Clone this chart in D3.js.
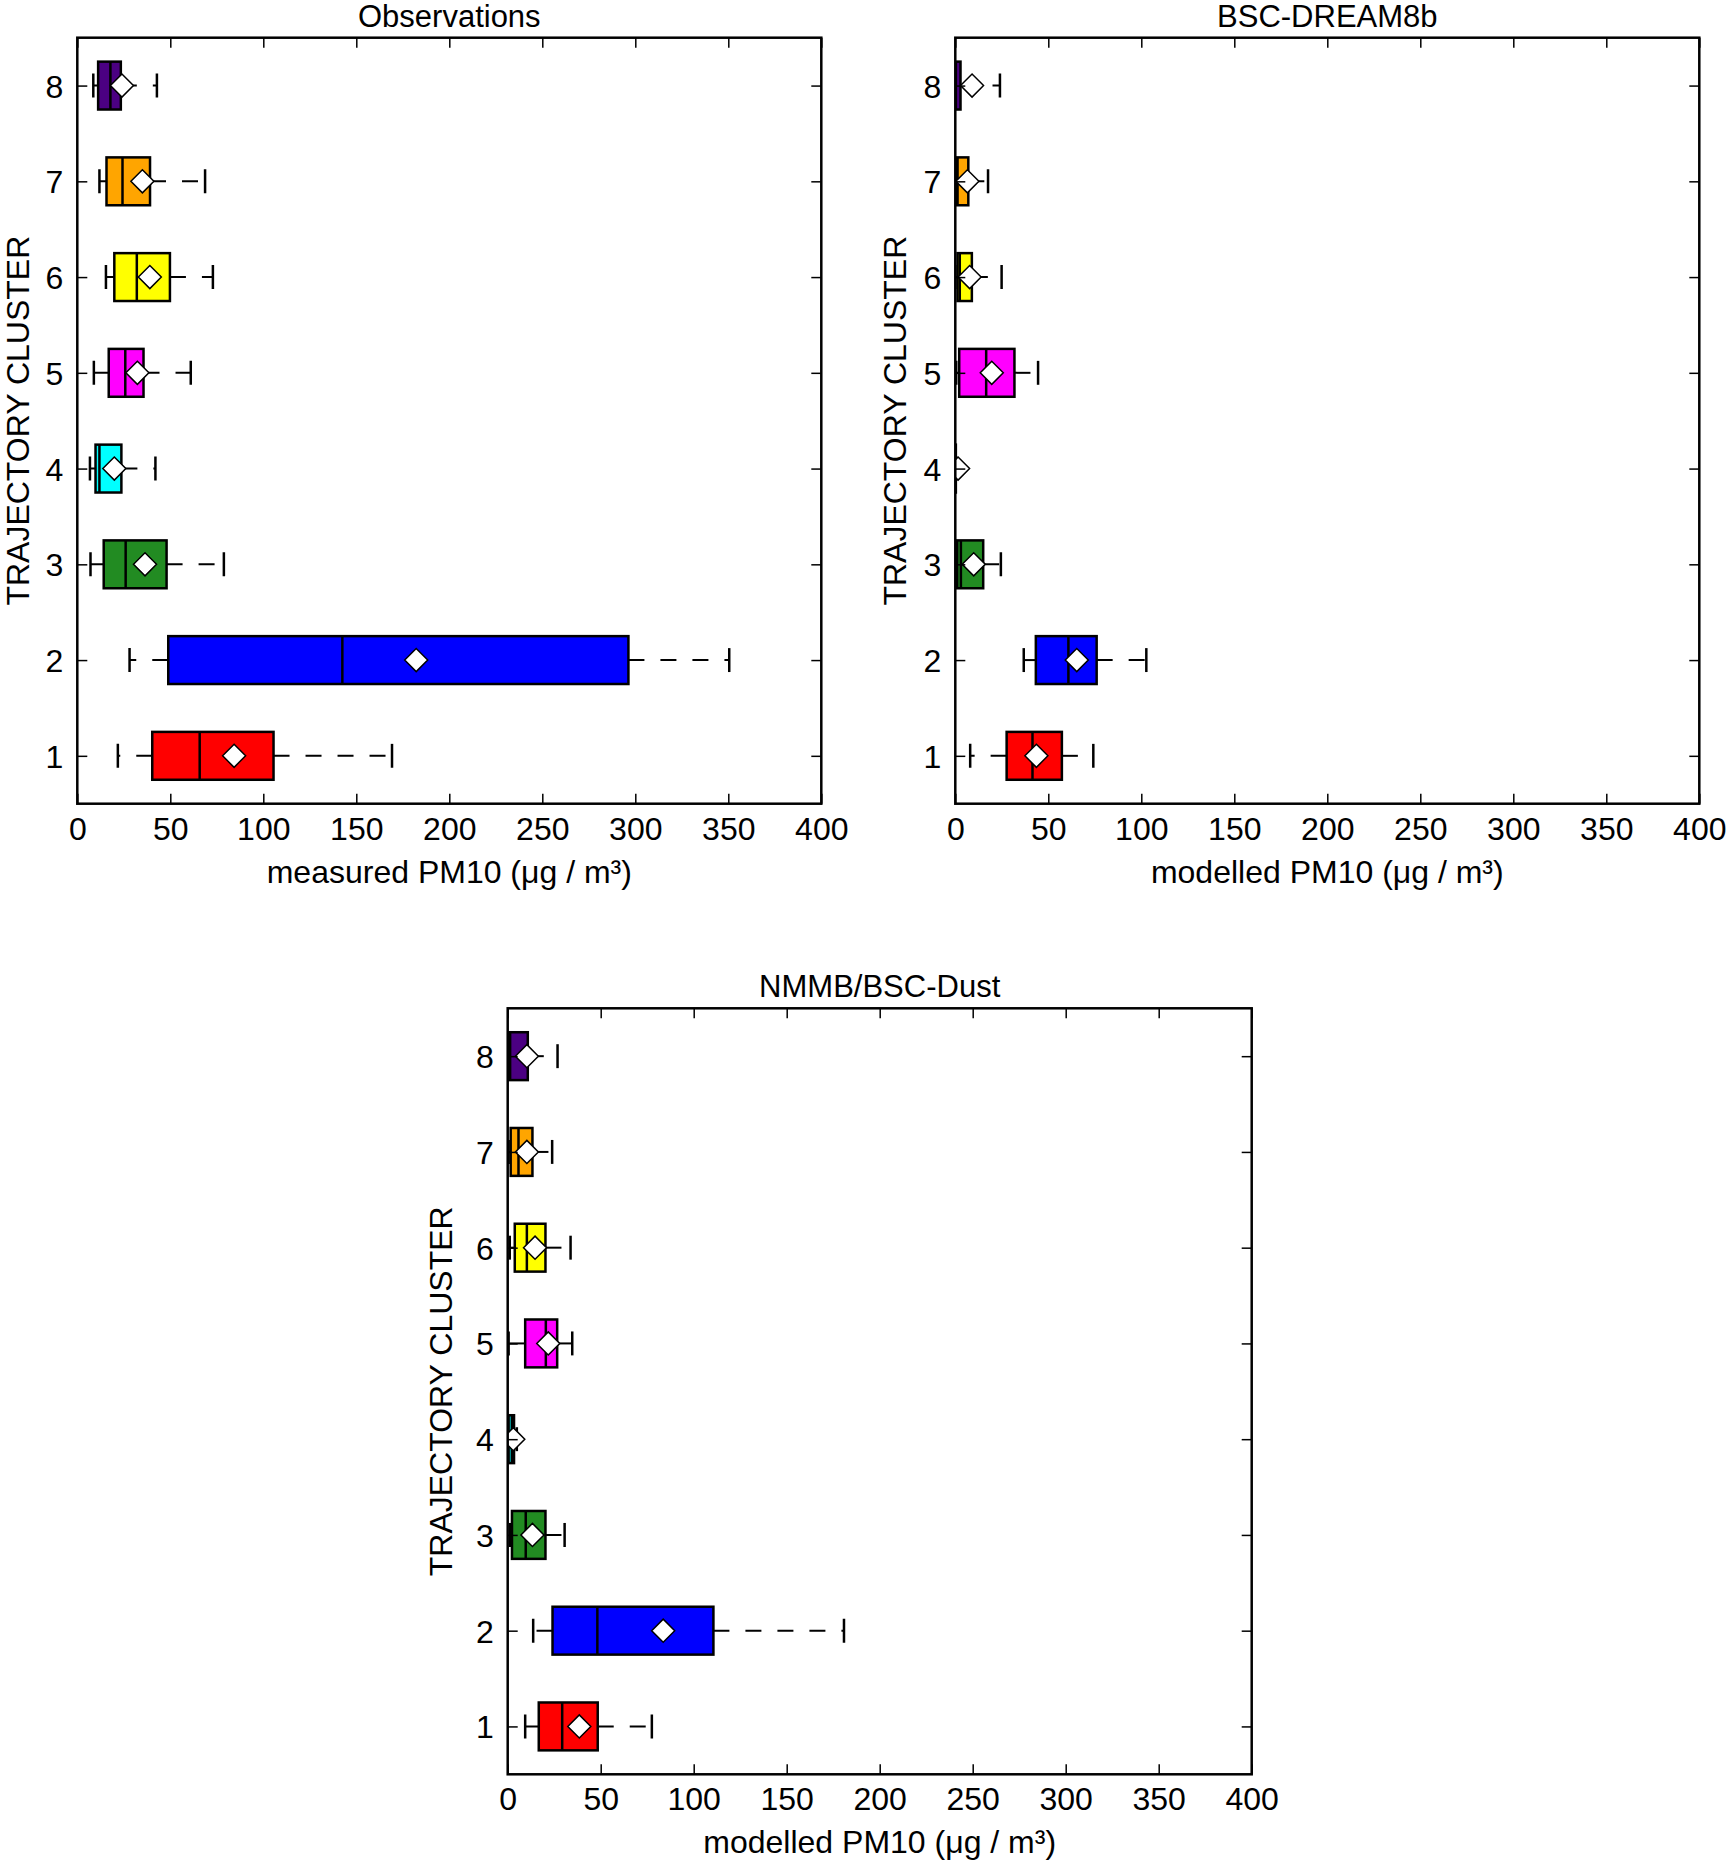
<!DOCTYPE html>
<html>
<head>
<meta charset="utf-8">
<script src="https://cdn.jsdelivr.net/npm/d3@7"></script>
<style>
  body { margin: 0; background: #fff; }
  text { font-family: 'Liberation Sans', Arial, Helvetica, sans-serif; fill: #000; }
</style>
</head>
<body>
<div id="chart"></div>
<script>
// Data: one row per cluster -> [lowCap, q1, median, q3, highCap, mean]
const clusters = [1, 2, 3, 4, 5, 6, 7, 8];
const clusterColors = ['#ff0000', '#0000ff', '#228b22', '#00ffff', '#ff00ff', '#ffff00', '#ffa500', '#4b0082'];
const xTicks = [0, 50, 100, 150, 200, 250, 300, 350, 400];

const obsStats = [
    [21.8, 40.3, 65.8, 105.5, 169.2, 84.3],
    [28.1, 48.9, 142.5, 296.3, 350.5, 182.2],
    [7.1, 14.2, 26.0, 48.0, 78.8, 36.4],
    [6.8, 9.8, 11.9, 23.7, 42.0, 19.9],
    [8.9, 16.9, 25.8, 35.6, 61.0, 32.3],
    [15.4, 19.9, 32.0, 49.8, 72.9, 39.0],
    [11.9, 15.7, 24.3, 39.1, 68.7, 35.0],
    [8.6, 11.2, 17.8, 23.4, 42.8, 24.0]
];
const dreamStats = [
    [8.0, 27.6, 41.5, 57.3, 74.2, 43.6],
    [36.8, 43.3, 60.8, 76.0, 102.7, 65.3],
    [0.0, 1.0, 3.0, 15.0, 24.5, 9.9],
    [0.0, 0.0, 0.0, 0.3, 0.5, 1.5],
    [0.5, 2.1, 16.6, 31.8, 44.5, 19.6],
    [0.0, 1.2, 2.4, 8.9, 24.9, 7.7],
    [0.0, 0.8, 1.2, 7.0, 17.6, 6.5],
    [0.0, 0.0, 0.3, 2.8, 24.0, 9.0]
];
const nmmbStats = [
    [9.4, 16.7, 29.3, 48.4, 77.5, 38.5],
    [13.7, 24.1, 48.2, 110.6, 180.8, 83.6],
    [1.3, 2.3, 9.7, 20.3, 30.6, 13.3],
    [0.5, 0.5, 2.2, 3.4, 4.9, 3.0],
    [0.5, 9.4, 20.5, 26.6, 34.7, 21.8],
    [1.1, 3.8, 10.3, 20.3, 33.8, 14.7],
    [0.5, 1.6, 5.8, 13.3, 23.9, 10.3],
    [0.0, 0.5, 1.3, 10.8, 26.8, 10.3]
];

// Layout
const width = 1728;
const height = 1865;
const plotW = 744;
const plotH = 766;
const fontSize = '32px';
const panels = [
    {id: 'obs', left: 77.3, top: 37.7, title: 'Observations', xlabel: 'measured PM10 (\u03bcg / m\u00b3)', ylabelOffset: 48, stats: obsStats},
    {id: 'dream', left: 955.3, top: 37.7, title: 'BSC-DREAM8b', xlabel: 'modelled PM10 (\u03bcg / m\u00b3)', ylabelOffset: 49, stats: dreamStats},
    {id: 'nmmb', left: 507.7, top: 1008.3, title: 'NMMB/BSC-Dust', xlabel: 'modelled PM10 (\u03bcg / m\u00b3)', ylabelOffset: 56, stats: nmmbStats}
];

const svg = d3.select('#chart')
    .append('svg')
        .attr('width', width)
        .attr('height', height);

svg.append('rect')
    .attr('width', width)
    .attr('height', height)
    .attr('fill', '#fff');

const xScale = d3.scaleLinear().domain([0, 400]).range([0, plotW]);
const yScale = d3.scaleLinear().domain([0.5, 8.5]).range([plotH, 0]);
const boxHalf = (yScale(0) - yScale(0.25));      // box width 0.5 in data units
const capHalf = (yScale(0) - yScale(0.125));     // caps are half the box width
const diamond = 11.5;

panels.forEach(p => {
    const g = svg.append('g')
        .attr('transform', `translate(${p.left},${p.top})`);

    g.append('clipPath')
        .attr('id', 'clip-' + p.id)
        .append('rect')
            .attr('width', plotW)
            .attr('height', plotH);

    const marks = g.append('g').attr('clip-path', `url(#clip-${p.id})`);

    const rows = p.stats.map((s, i) => ({
        cluster: clusters[i], color: clusterColors[i],
        low: s[0], q1: s[1], med: s[2], q3: s[3], high: s[4], mean: s[5]
    }));

    // whiskers (dashed, drawn from the box outward)
    marks.selectAll('.whiskerLow')
        .data(rows)
        .enter()
        .append('line')
            .attr('x1', d => xScale(d.q1))
            .attr('x2', d => xScale(d.low))
            .attr('y1', d => yScale(d.cluster))
            .attr('y2', d => yScale(d.cluster))
            .attr('stroke', '#000')
            .attr('stroke-width', 2)
            .attr('stroke-dasharray', '16,16');

    marks.selectAll('.whiskerHigh')
        .data(rows)
        .enter()
        .append('line')
            .attr('x1', d => xScale(d.q3))
            .attr('x2', d => xScale(d.high))
            .attr('y1', d => yScale(d.cluster))
            .attr('y2', d => yScale(d.cluster))
            .attr('stroke', '#000')
            .attr('stroke-width', 2)
            .attr('stroke-dasharray', '16,16');

    // caps
    ['low', 'high'].forEach(k => {
        marks.selectAll('.cap-' + k)
            .data(rows)
            .enter()
            .append('line')
                .attr('x1', d => xScale(d[k]))
                .attr('x2', d => xScale(d[k]))
                .attr('y1', d => yScale(d.cluster) - capHalf)
                .attr('y2', d => yScale(d.cluster) + capHalf)
                .attr('stroke', '#000')
                .attr('stroke-width', 2.5);
    });

    // boxes
    marks.selectAll('.box')
        .data(rows)
        .enter()
        .append('rect')
            .attr('x', d => xScale(d.q1))
            .attr('y', d => yScale(d.cluster) - boxHalf)
            .attr('width', d => xScale(d.q3) - xScale(d.q1))
            .attr('height', boxHalf * 2)
            .attr('fill', d => d.color)
            .attr('stroke', '#000')
            .attr('stroke-width', 2.5);

    // medians
    marks.selectAll('.median')
        .data(rows)
        .enter()
        .append('line')
            .attr('x1', d => xScale(d.med))
            .attr('x2', d => xScale(d.med))
            .attr('y1', d => yScale(d.cluster) - boxHalf)
            .attr('y2', d => yScale(d.cluster) + boxHalf)
            .attr('stroke', '#000')
            .attr('stroke-width', 2.5);

    // means (white diamonds)
    marks.selectAll('.mean')
        .data(rows)
        .enter()
        .append('path')
            .attr('d', d => {
                const cx = xScale(d.mean), cy = yScale(d.cluster);
                return `M${cx - diamond},${cy}L${cx},${cy - diamond}L${cx + diamond},${cy}L${cx},${cy + diamond}Z`;
            })
            .attr('fill', '#fff')
            .attr('stroke', '#000')
            .attr('stroke-width', 1.5);

    // axes, ticks inside on all four sides
    const xAxis = g.append('g')
        .attr('transform', `translate(0,${plotH})`)
        .call(d3.axisBottom(xScale).tickValues(xTicks).tickSize(-10).tickFormat(d3.format('d')));
    xAxis.selectAll('text')
        .attr('y', 36)
        .attr('dy', null)
        .style('font-size', fontSize);

    g.append('g')
        .call(d3.axisTop(xScale).tickValues(xTicks).tickSize(-10).tickFormat(''));

    const yAxis = g.append('g')
        .call(d3.axisLeft(yScale).tickValues(clusters).tickSize(-10).tickFormat(d3.format('d')));
    yAxis.selectAll('text')
        .attr('x', -14)
        .attr('y', 11.5)
        .attr('dy', null)
        .style('font-size', fontSize);

    g.append('g')
        .attr('transform', `translate(${plotW},0)`)
        .call(d3.axisRight(yScale).tickValues(clusters).tickSize(-10).tickFormat(''));

    g.selectAll('.domain').remove();
    g.selectAll('.tick line')
        .attr('stroke', '#000')
        .attr('stroke-width', 1.5);

    g.append('rect')
        .attr('width', plotW)
        .attr('height', plotH)
        .attr('fill', 'none')
        .attr('stroke', '#000')
        .attr('stroke-width', 2.5);

    // titles and labels
    g.append('text')
        .attr('x', plotW / 2)
        .attr('y', -11)
        .attr('text-anchor', 'middle')
        .style('font-size', '31px')
        .text(p.title);

    g.append('text')
        .attr('x', plotW / 2)
        .attr('y', plotH + 79)
        .attr('text-anchor', 'middle')
        .style('font-size', fontSize)
        .text(p.xlabel);

    g.append('text')
        .attr('transform', `translate(${-p.ylabelOffset},${plotH / 2}) rotate(-90)`)
        .attr('text-anchor', 'middle')
        .style('font-size', fontSize)
        .text('TRAJECTORY CLUSTER');
});
</script>
</body>
</html>
